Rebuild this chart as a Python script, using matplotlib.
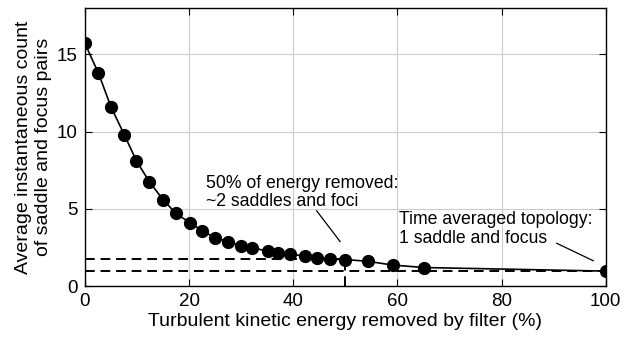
import numpy as np
import matplotlib.pyplot as plt

plt.rcParams['font.family'] = ['Liberation Sans', 'DejaVu Sans']

# energy removed (%) and average count of saddle/focus pairs
energy = [0, 2.6, 5.0, 7.6, 9.9, 12.4, 15.0, 17.4, 20.1, 22.5, 24.9, 27.5, 30.0,
          32.1, 35.1, 37.0, 39.3, 42.3, 44.6, 47.0, 50.0, 54.4, 59.1, 65.2, 100]
count = [15.7, 13.77, 11.6, 9.76, 8.1, 6.73, 5.6, 4.72, 4.11, 3.59, 3.14, 2.88, 2.62,
         2.49, 2.25, 2.16, 2.06, 1.95, 1.82, 1.73, 1.72, 1.6, 1.36, 1.2, 0.97]

half_level = 1.73
mean_level = 0.95

fig = plt.figure(figsize=(6.29, 3.41), dpi=100)
ax = fig.add_axes([0.135, 0.161, 0.828, 0.816])

ax.plot(energy, count, '-o', color='black', lw=1.2, markersize=8.5)
ax.plot([0, 50], [half_level, half_level], '--', color='black', lw=1.4, dashes=(5, 3))
ax.plot([50, 50], [0, half_level], '--', color='black', lw=1.4, dashes=(5, 3))
ax.plot([0, 100], [mean_level, mean_level], '--', color='black', lw=1.4, dashes=(5, 3))

ax.text(23.3, 6.05, '50% of energy removed:\n~2 saddles and foci', fontsize=12.7,
        va='center', ha='left', linespacing=1.1)
ax.plot([44.5, 49.0], [4.87, 2.88], color='black', lw=0.9)

ax.text(60.3, 3.7, 'Time averaged topology:\n1 saddle and focus', fontsize=12.7,
        va='center', ha='left', linespacing=1.1)
ax.plot([90.6, 97.6], [2.77, 1.64], color='black', lw=0.9)

ax.set_xlim(0, 100)
ax.set_ylim(0, 18)
ax.set_xticks([0, 20, 40, 60, 80, 100])
ax.set_yticks([0, 5, 10, 15])
ax.grid(True, color='#cccccc', lw=0.8)
ax.set_axisbelow(True)
ax.tick_params(direction='in', top=True, right=True, labelsize=13.5, length=5, pad=5)
for s in ax.spines.values():
    s.set_linewidth(1.0)

ax.set_xlabel('Turbulent kinetic energy removed by filter (%)', fontsize=14, labelpad=2)
ax.set_ylabel('Average instantaneous count\nof saddle and focus pairs', fontsize=14,
              labelpad=4, linespacing=1.2)

fig.savefig('out.png', dpi=100)
